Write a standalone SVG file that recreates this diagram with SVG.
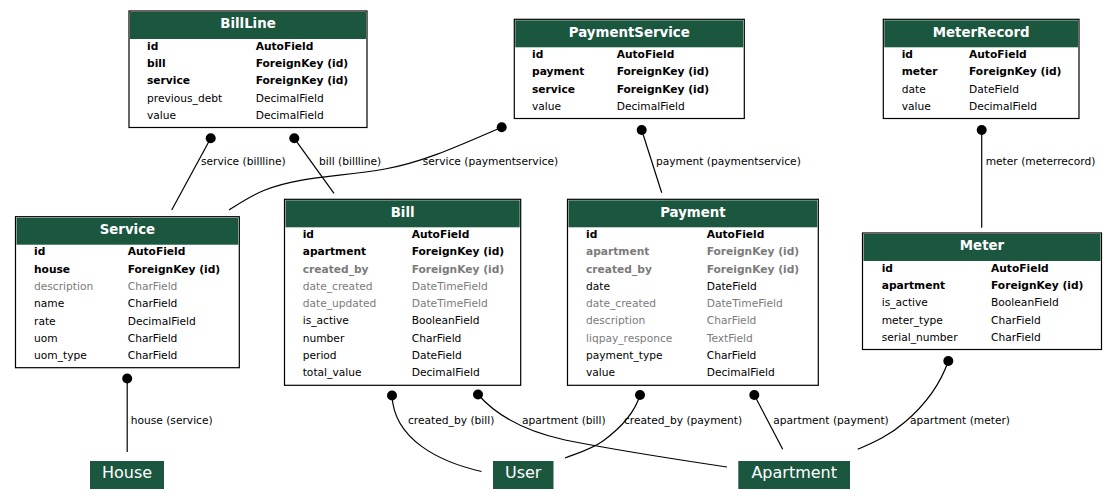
<svg xmlns="http://www.w3.org/2000/svg" width="1117" height="504" viewBox="0 0 1117 504">
<style>
text{font-family:"DejaVu Sans","Liberation Sans",sans-serif;}
.box{fill:#ffffff;stroke:#000000;stroke-width:1.2;}
.hdr{fill:#1b563f;}
.title{font-size:13.33px;font-weight:bold;fill:#ffffff;text-anchor:middle;}
.r{font-size:10.67px;fill:#000000;}
.b{font-weight:bold;}
.g{fill:#7b7b7b;}
.lbl{font-size:10.67px;fill:#000000;}
.edge{fill:none;stroke:#000000;stroke-width:1.2;}
.dot{fill:#000000;}
.nb{fill:#1b563f;}
.nt{font-size:16px;fill:#ffffff;text-anchor:middle;}
</style>

<g id="connectors">
  <path class="edge" d="M210.7,138.3 L171.7,210"/>
  <circle class="dot" cx="210.7" cy="138.3" r="5"/>
  <text class="lbl" x="201" y="165.4">service (billline)</text>

  <path class="edge" d="M294.3,138.3 L334,193.3"/>
  <circle class="dot" cx="294.3" cy="138.3" r="5"/>
  <text class="lbl" x="319" y="165.4">bill (billline)</text>

  <path class="edge" d="M501.7,127.3 C465,143 425,162 385,169 C340,177 300,176 265,190 C250,196 240,203 229,210"/>
  <circle class="dot" cx="501.7" cy="127.3" r="5"/>
  <text class="lbl" x="422.7" y="165.4">service (paymentservice)</text>

  <path class="edge" d="M641.7,130 L661.7,192.7"/>
  <circle class="dot" cx="641.7" cy="130" r="5"/>
  <text class="lbl" x="656" y="165.4">payment (paymentservice)</text>

  <path class="edge" d="M981.7,130 L981.7,227.7"/>
  <circle class="dot" cx="981.7" cy="130" r="5"/>
  <text class="lbl" x="985.7" y="165.4">meter (meterrecord)</text>

  <path class="edge" d="M127.2,378.5 L127.2,452"/>
  <circle class="dot" cx="127.2" cy="378.5" r="5"/>
  <text class="lbl" x="130.7" y="423.5">house (service)</text>

  <path class="edge" d="M392,395.5 C394,440 440,462 481.5,471.5"/>
  <circle class="dot" cx="392" cy="395.5" r="5"/>
  <text class="lbl" x="408" y="423.5">created_by (bill)</text>

  <path class="edge" d="M478,394.5 C495,414 520,430 565,440 C620,451 680,460 727,467"/>
  <circle class="dot" cx="478" cy="394.5" r="5"/>
  <text class="lbl" x="522" y="423.5">apartment (bill)</text>

  <path class="edge" d="M640,395 C634,415 618,430 603,441 C592,449 578,453 565,458"/>
  <circle class="dot" cx="640" cy="395" r="5"/>
  <text class="lbl" x="624" y="423.5">created_by (payment)</text>

  <path class="edge" d="M754.3,395 L782.7,449.3"/>
  <circle class="dot" cx="754.3" cy="395" r="5"/>
  <text class="lbl" x="773.3" y="423.5">apartment (payment)</text>

  <path class="edge" d="M948.3,361 C940,385 925,405 905,422 C890,435 875,442 857.7,449.3"/>
  <circle class="dot" cx="948.3" cy="361" r="5"/>
  <text class="lbl" x="910" y="423.5">apartment (meter)</text>
</g>

<g id="BillLine">
  <rect class="box" x="129" y="11" width="238" height="116.5"/>
  <rect class="hdr" x="130" y="12" width="236" height="27"/>
  <text class="title" x="248" y="28.3">BillLine</text>
  <text class="r b" x="147" y="49.6">id</text><text class="r b" x="255.7" y="49.6">AutoField</text>
  <text class="r b" x="147" y="66.9">bill</text><text class="r b" x="255.7" y="66.9">ForeignKey (id)</text>
  <text class="r b" x="147" y="84.2">service</text><text class="r b" x="255.7" y="84.2">ForeignKey (id)</text>
  <text class="r" x="147" y="101.5">previous_debt</text><text class="r" x="255.7" y="101.5">DecimalField</text>
  <text class="r" x="147" y="118.8">value</text><text class="r" x="255.7" y="118.8">DecimalField</text>
</g>

<g id="PaymentService">
  <rect class="box" x="514.3" y="19.3" width="230" height="99.2"/>
  <rect class="hdr" x="515.3" y="20.3" width="228" height="27"/>
  <text class="title" x="629.3" y="36.6">PaymentService</text>
  <text class="r b" x="532" y="57.9">id</text><text class="r b" x="616.7" y="57.9">AutoField</text>
  <text class="r b" x="532" y="75.2">payment</text><text class="r b" x="616.7" y="75.2">ForeignKey (id)</text>
  <text class="r b" x="532" y="92.5">service</text><text class="r b" x="616.7" y="92.5">ForeignKey (id)</text>
  <text class="r" x="532" y="109.8">value</text><text class="r" x="616.7" y="109.8">DecimalField</text>
</g>

<g id="MeterRecord">
  <rect class="box" x="883.3" y="19.3" width="195.7" height="99.2"/>
  <rect class="hdr" x="884.3" y="20.3" width="193.7" height="27"/>
  <text class="title" x="981.2" y="36.6">MeterRecord</text>
  <text class="r b" x="901.7" y="57.9">id</text><text class="r b" x="969" y="57.9">AutoField</text>
  <text class="r b" x="901.7" y="75.2">meter</text><text class="r b" x="969" y="75.2">ForeignKey (id)</text>
  <text class="r" x="901.7" y="92.5">date</text><text class="r" x="969" y="92.5">DateField</text>
  <text class="r" x="901.7" y="109.8">value</text><text class="r" x="969" y="109.8">DecimalField</text>
</g>

<g id="Service">
  <rect class="box" x="15.5" y="216.7" width="223.8" height="151"/>
  <rect class="hdr" x="16.5" y="217.7" width="221.8" height="27"/>
  <text class="title" x="127.4" y="234">Service</text>
  <text class="r b" x="34" y="255.3">id</text><text class="r b" x="127.7" y="255.3">AutoField</text>
  <text class="r b" x="34" y="272.6">house</text><text class="r b" x="127.7" y="272.6">ForeignKey (id)</text>
  <text class="r g" x="34" y="289.9">description</text><text class="r g" x="127.7" y="289.9">CharField</text>
  <text class="r" x="34" y="307.2">name</text><text class="r" x="127.7" y="307.2">CharField</text>
  <text class="r" x="34" y="324.5">rate</text><text class="r" x="127.7" y="324.5">DecimalField</text>
  <text class="r" x="34" y="341.8">uom</text><text class="r" x="127.7" y="341.8">CharField</text>
  <text class="r" x="34" y="359.1">uom_type</text><text class="r" x="127.7" y="359.1">CharField</text>
</g>

<g id="Bill">
  <rect class="box" x="284.5" y="199.3" width="236.2" height="186"/>
  <rect class="hdr" x="285.5" y="200.3" width="234.2" height="27"/>
  <text class="title" x="402.6" y="216.6">Bill</text>
  <text class="r b" x="302.7" y="237.9">id</text><text class="r b" x="411.7" y="237.9">AutoField</text>
  <text class="r b" x="302.7" y="255.2">apartment</text><text class="r b" x="411.7" y="255.2">ForeignKey (id)</text>
  <text class="r b g" x="302.7" y="272.5">created_by</text><text class="r b g" x="411.7" y="272.5">ForeignKey (id)</text>
  <text class="r g" x="302.7" y="289.8">date_created</text><text class="r g" x="411.7" y="289.8">DateTimeField</text>
  <text class="r g" x="302.7" y="307.1">date_updated</text><text class="r g" x="411.7" y="307.1">DateTimeField</text>
  <text class="r" x="302.7" y="324.4">is_active</text><text class="r" x="411.7" y="324.4">BooleanField</text>
  <text class="r" x="302.7" y="341.7">number</text><text class="r" x="411.7" y="341.7">CharField</text>
  <text class="r" x="302.7" y="359">period</text><text class="r" x="411.7" y="359">DateField</text>
  <text class="r" x="302.7" y="376.3">total_value</text><text class="r" x="411.7" y="376.3">DecimalField</text>
</g>

<g id="Payment">
  <rect class="box" x="567.5" y="199.3" width="250.8" height="186"/>
  <rect class="hdr" x="568.5" y="200.3" width="248.8" height="27"/>
  <text class="title" x="692.9" y="216.6">Payment</text>
  <text class="r b" x="586" y="237.9">id</text><text class="r b" x="706.7" y="237.9">AutoField</text>
  <text class="r b g" x="586" y="255.2">apartment</text><text class="r b g" x="706.7" y="255.2">ForeignKey (id)</text>
  <text class="r b g" x="586" y="272.5">created_by</text><text class="r b g" x="706.7" y="272.5">ForeignKey (id)</text>
  <text class="r" x="586" y="289.8">date</text><text class="r" x="706.7" y="289.8">DateField</text>
  <text class="r g" x="586" y="307.1">date_created</text><text class="r g" x="706.7" y="307.1">DateTimeField</text>
  <text class="r g" x="586" y="324.4">description</text><text class="r g" x="706.7" y="324.4">CharField</text>
  <text class="r g" x="586" y="341.7">liqpay_responce</text><text class="r g" x="706.7" y="341.7">TextField</text>
  <text class="r" x="586" y="359">payment_type</text><text class="r" x="706.7" y="359">CharField</text>
  <text class="r" x="586" y="376.3">value</text><text class="r" x="706.7" y="376.3">DecimalField</text>
</g>

<g id="Meter">
  <rect class="box" x="862.5" y="233" width="239" height="116.5"/>
  <rect class="hdr" x="863.5" y="234" width="237" height="27"/>
  <text class="title" x="982" y="250.3">Meter</text>
  <text class="r b" x="881.7" y="271.6">id</text><text class="r b" x="991" y="271.6">AutoField</text>
  <text class="r b" x="881.7" y="288.9">apartment</text><text class="r b" x="991" y="288.9">ForeignKey (id)</text>
  <text class="r" x="881.7" y="306.2">is_active</text><text class="r" x="991" y="306.2">BooleanField</text>
  <text class="r" x="881.7" y="323.5">meter_type</text><text class="r" x="991" y="323.5">CharField</text>
  <text class="r" x="881.7" y="340.8">serial_number</text><text class="r" x="991" y="340.8">CharField</text>
</g>

<g id="House">
  <rect class="nb" x="90" y="461" width="74" height="28"/>
  <text class="nt" x="127" y="477.5">House</text>
</g>
<g id="User">
  <rect class="nb" x="493" y="461" width="60.5" height="28"/>
  <text class="nt" x="523.2" y="477.5">User</text>
</g>
<g id="Apartment">
  <rect class="nb" x="738.3" y="461" width="111.7" height="28"/>
  <text class="nt" x="794.2" y="477.5">Apartment</text>
</g>
</svg>
